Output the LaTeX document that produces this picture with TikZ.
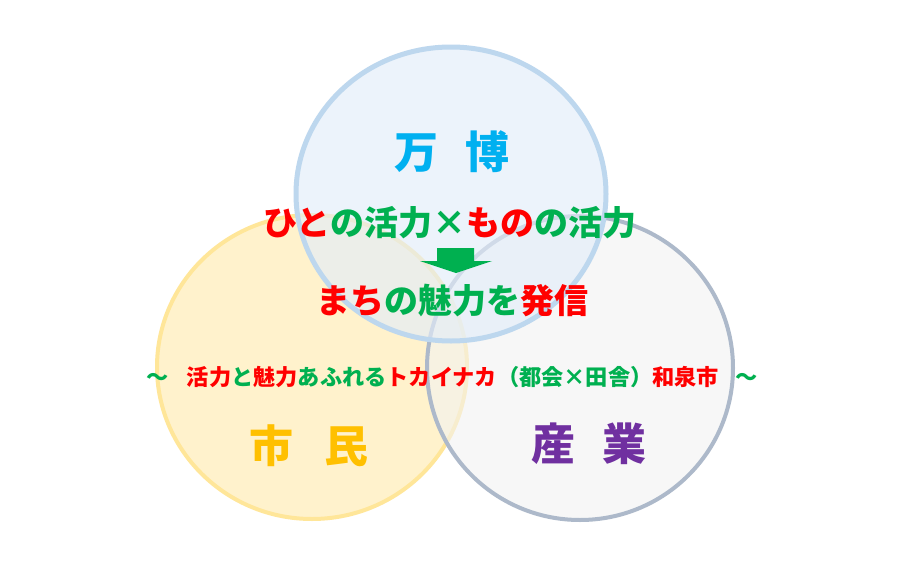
\documentclass[tikz,border=0pt]{standalone}
\usepackage{fontspec}
\newfontfamily\jp{Noto Sans CJK JP}
\definecolor{jred}{HTML}{FF0000}
\definecolor{jgreen}{HTML}{00B050}
\definecolor{jcyan}{HTML}{00B0F0}
\definecolor{jorange}{HTML}{FFC000}
\definecolor{jpurple}{HTML}{7030A0}
\definecolor{bluefill}{HTML}{E3EDF9}
\definecolor{blueline}{HTML}{BDD7EE}
\definecolor{yelfill}{HTML}{FFF2CC}
\definecolor{yelline}{HTML}{FFE699}
\definecolor{grayfill}{HTML}{F2F2F2}
\definecolor{grayline}{HTML}{ADB9CA}
\tikzset{
  jtxt/.style={inner sep=0pt, font=\jp\bfseries},
  big/.style={jtxt, font=\jp\bfseries\fontsize{44}{44}\selectfont},
  mid/.style={jtxt, font=\jp\bfseries\fontsize{34}{34}\selectfont},
  small/.style={jtxt, font=\jp\bfseries\fontsize{22.2}{22.2}\selectfont},
  venn/.style={line width=4pt},
}
\newcommand{\R}[1]{\textcolor{jred}{#1}}
\newcommand{\G}[1]{\textcolor{jgreen}{#1}}
\begin{document}
\begin{tikzpicture}[x=1pt,y=-1pt]
\useasboundingbox (0,0) rectangle (906,565);
\fill[white] (0,0) rectangle (906,565);
% circles
\draw[venn, draw=yelline, fill=yelfill] (312,367) ellipse [x radius=155, y radius=152];
\draw[venn, draw=grayline, fill=grayfill, fill opacity=0.6] (580,368) ellipse [x radius=153, y radius=152];
\draw[venn, line width=5pt, draw=blueline, fill=bluefill, fill opacity=0.65] (451,194) ellipse [x radius=155, y radius=147];
% titles
\node[big, text=jcyan] (banpaku) at (452,152) {万\hspace{28pt}博};
\node[big, text=jorange] (shimin) at (309,446) {市\hspace{32pt}民};
\node[big, text=jpurple] (sangyo) at (589,444) {産\hspace{28pt}業};
% central texts
\node[mid] (line1) at (450,223) {\R{ひと}\G{の活力×}\R{もの}\G{の活力}};
\node[mid] (line2) at (452,301) {\R{まち}\G{の魅力を}\R{発信}};
\node[small] (slogan) at (452,377) {\G{～}\hspace{18pt}\R{活力}\G{と}\R{魅力}\G{あふれる}\R{トカイナカ}\G{（都会×田舎）}\R{和泉市}\hspace{16pt}\G{～}};
% arrow
\fill[jgreen] (437,248) -- (474,248) -- (474,261) -- (492,261) -- (456,273) -- (420,261) -- (437,261) -- cycle;
\end{tikzpicture}
\end{document}
